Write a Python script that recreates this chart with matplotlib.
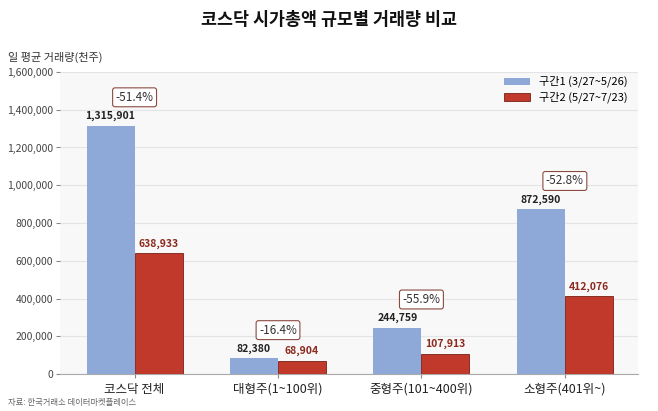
import numpy as np
import matplotlib.pyplot as plt

plt.rcParams['font.family'] = ['Noto Sans CJK KR', 'DejaVu Sans']

categories = ['코스닥 전체', '대형주(1~100위)', '중형주(101~400위)', '소형주(401위~)']
period1 = [1315901, 82380, 244759, 872590]
period2 = [638933, 68904, 107913, 412076]
changes = ['-51.4%', '-16.4%', '-55.9%', '-52.8%']
label1 = '구간1 (3/27~5/26)'
label2 = '구간2 (5/27~7/23)'

blue = '#8ea9d8'
red = '#c0392b'
darkred = '#8b2a1e'

fig = plt.figure(figsize=(6.58, 4.11), dpi=100)
ax = fig.add_axes([60/658, 1-374/411, 578/658, 302/411])
ax.set_facecolor('#f8f8f8')

x = np.arange(len(categories))
w = 0.335
ax.bar(x - w/2, period1, w, color=blue, label=label1, zorder=3)
ax.bar(x + w/2, period2, w, color=red, edgecolor='#7a1f14', linewidth=0.6, label=label2, zorder=3)

for xi, v in zip(x, period1):
    ax.text(xi - w/2, v + 25000, f'{v:,}', ha='center', va='bottom', fontsize=7.5, fontweight='bold', color='#222222', zorder=4)
for xi, v in zip(x, period2):
    ax.text(xi + w/2, v + 25000, f'{v:,}', ha='center', va='bottom', fontsize=7.5, fontweight='bold', color=darkred, zorder=4)
for xi, v, c in zip(x, period1, changes):
    ax.text(xi, v + 150000, c, ha='center', va='center', fontsize=8.5, color='#333333', zorder=4,
            bbox=dict(boxstyle='round,pad=0.25,rounding_size=0.2', fc='white', ec='#8b4a40', lw=0.8))

ax.set_ylim(0, 1600000)
ax.set_xlim(-0.52, 3.51)
ax.set_yticks(np.arange(0, 1600001, 200000))
ax.set_yticklabels([f'{t:,}' for t in range(0, 1600001, 200000)], fontsize=7.5, color='#444444')
ax.set_xticks(x)
ax.set_xticklabels(categories, fontsize=9, color='#222222')
ax.tick_params(axis='y', length=3, color='#888888', pad=2)
ax.tick_params(axis='x', length=3, color='#888888')
ax.grid(axis='y', color='#e4e4e4', linewidth=0.8, zorder=0)
for s in ['top', 'right', 'left']:
    ax.spines[s].set_visible(False)
ax.spines['bottom'].set_color('#aaaaaa')

ax.legend(loc='upper right', frameon=False, fontsize=8, handlelength=2.4, handleheight=0.6,
          labelspacing=0.4, bbox_to_anchor=(1.0, 1.02))

fig.text(0.5, 1-20/411, '코스닥 시가총액 규모별 거래량 비교', ha='center', va='center', fontsize=12.5, fontweight='bold', color='#111111')
fig.text(8/658, 1-57/411, '일 평균 거래량(천주)', ha='left', va='center', fontsize=8, color='#333333')
fig.text(8/658, 1-402/411, '자료: 한국거래소 데이터마켓플레이스', ha='left', va='center', fontsize=6, color='#666666')

fig.savefig('out.png', dpi=100)
